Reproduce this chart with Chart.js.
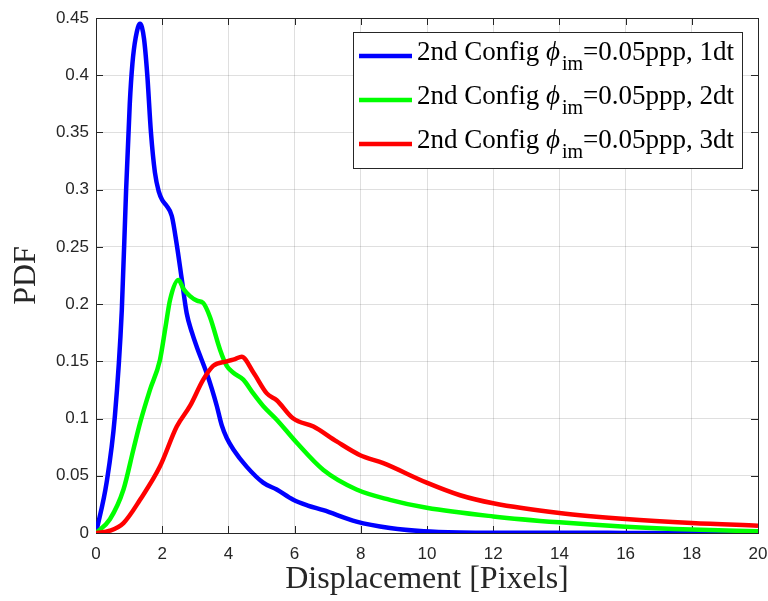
<!DOCTYPE html>
<html lang="en">
<head>
  <meta charset="UTF-8" />
  <title>PDF of displacement</title>
  <script src="https://cdn.jsdelivr.net/npm/chart.js"></script>
  <style>
    body { margin: 0; background: #fff; }
    #wrap { width: 768px; height: 601px; position: relative; }
  </style>
</head>
<body>
  <div id="wrap"><canvas id="pdfChart"></canvas></div>

  <script>
    // data
    const disp1dt = [0, 0.32, 0.57, 0.78, 0.91, 1.02, 1.1, 1.2, 1.33, 1.45, 1.55, 1.66, 1.78, 1.9, 2.0, 2.13, 2.29, 2.44, 2.59, 2.74, 2.9, 3.04, 3.34, 3.5, 3.65, 3.8, 3.95, 4.15, 4.55, 5.05, 5.46, 5.96, 6.4, 6.87, 7.87, 8.88, 9.9, 11, 13, 16, 20];
    const pdf1dt  = [0, 0.044, 0.102, 0.195, 0.30, 0.375, 0.41, 0.433, 0.445, 0.432, 0.40, 0.35, 0.315, 0.298, 0.291, 0.286, 0.277, 0.252, 0.222, 0.192, 0.175, 0.163, 0.140, 0.126, 0.111, 0.094, 0.083, 0.073, 0.058, 0.044, 0.038, 0.029, 0.024, 0.020, 0.010, 0.0044, 0.0015, 0.0005, 0.0002, 0.0001, 0];

    const disp2dt = [0, 0.42, 0.83, 1.13, 1.33, 1.63, 1.93, 2.1, 2.24, 2.49, 2.65, 2.84, 3.05, 3.24, 3.44, 3.75, 3.95, 4.15, 4.45, 4.75, 5.05, 5.46, 6.06, 6.87, 7.87, 8.88, 9.99, 12, 14, 16, 18, 20];
    const pdf2dt  = [0, 0.012, 0.038, 0.073, 0.096, 0.125, 0.151, 0.18, 0.204, 0.221, 0.213, 0.207, 0.203, 0.201, 0.189, 0.160, 0.146, 0.140, 0.134, 0.122, 0.111, 0.099, 0.079, 0.055, 0.038, 0.029, 0.022, 0.0145, 0.0093, 0.0055, 0.003, 0.0015];

    const disp3dt = [0, 0.42, 0.83, 1.33, 1.93, 2.44, 2.84, 3.24, 3.54, 3.95, 4.2, 4.4, 4.76, 5.16, 5.46, 5.96, 6.57, 7.27, 7.98, 8.68, 9.99, 11, 12, 14, 16, 18, 20];
    const pdf3dt  = [0, 0.002, 0.0087, 0.029, 0.058, 0.093, 0.111, 0.134, 0.146, 0.150, 0.152, 0.154, 0.140, 0.122, 0.116, 0.100, 0.093, 0.080, 0.068, 0.061, 0.044, 0.033, 0.026, 0.0175, 0.0122, 0.0087, 0.0064];

    const seriesTags = ["1dt", "2dt", "3dt"];
    const seriesColors = ["#0000ff", "#00ff00", "#ff0000"];

    const xTickLabels = ["0", "2", "4", "6", "8", "10", "12", "14", "16", "18", "20"];
    const yTickLabels = ["0", "0.05", "0.1", "0.15", "0.2", "0.25", "0.3", "0.35", "0.4", "0.45"];

    const axisColor = "#262626";

    function toPoints(xs, ys) {
      return xs.map((x, i) => ({ x: x, y: ys[i] }));
    }

    // box around the plot with inward ticks on all four sides
    const framePlugin = {
      id: "frame",
      beforeDatasetsDraw(chart) {
        const { ctx, chartArea: a, scales } = chart;
        const len = 7;
        ctx.save();
        ctx.strokeStyle = axisColor;
        ctx.lineWidth = 1;
        ctx.beginPath();
        scales.x.ticks.forEach(t => {
          const px = Math.round(scales.x.getPixelForValue(t.value)) + 0.5;
          ctx.moveTo(px, a.bottom); ctx.lineTo(px, a.bottom - len);
          ctx.moveTo(px, a.top); ctx.lineTo(px, a.top + len);
        });
        scales.y.ticks.forEach(t => {
          const py = Math.round(scales.y.getPixelForValue(t.value)) + 0.5;
          ctx.moveTo(a.left, py); ctx.lineTo(a.left + len, py);
          ctx.moveTo(a.right, py); ctx.lineTo(a.right - len, py);
        });
        ctx.stroke();
        ctx.strokeRect(Math.round(a.left) + 0.5, Math.round(a.top) + 0.5,
                       Math.round(a.right - a.left), Math.round(a.bottom - a.top));
        ctx.restore();
      }
    };

    // legend with italic phi and subscript, like the MATLAB one
    const legendPlugin = {
      id: "texLegend",
      afterDraw(chart) {
        const ctx = chart.ctx;
        const box = { x: 353.5, y: 32.5, w: 389, h: 136 };
        const serif = '"Liberation Serif", "Times New Roman", serif';
        ctx.save();
        ctx.fillStyle = "#fff";
        ctx.fillRect(box.x, box.y, box.w, box.h);
        ctx.strokeStyle = axisColor;
        ctx.lineWidth = 1;
        ctx.strokeRect(box.x, box.y, box.w, box.h);

        chart.data.datasets.forEach((ds, i) => {
          const ly = 56 + i * 44;
          ctx.strokeStyle = ds.borderColor;
          ctx.lineWidth = 4.5;
          ctx.beginPath();
          ctx.moveTo(359, ly);
          ctx.lineTo(412, ly);
          ctx.stroke();

          const base = ly + 4;
          let x = 417;
          ctx.fillStyle = "#000";
          ctx.textBaseline = "alphabetic";
          ctx.font = "27px " + serif;
          ctx.fillText("2nd Config ", x, base);
          x += ctx.measureText("2nd Config ").width;
          ctx.font = 'italic 27px "Liberation Serif", "DejaVu Serif", serif';
          ctx.fillText("\u03d5", x, base);
          x += ctx.measureText("\u03d5").width + 2;
          ctx.font = "20px " + serif;
          ctx.fillText("im", x, base + 10);
          x += ctx.measureText("im").width;
          ctx.font = "27px " + serif;
          ctx.fillText("=0.05ppp, " + seriesTags[i], x, base);
        });
        ctx.restore();
      }
    };

    const datasets = [
      { data: toPoints(disp1dt, pdf1dt), order: 3 },
      { data: toPoints(disp2dt, pdf2dt), order: 2 },
      { data: toPoints(disp3dt, pdf3dt), order: 1 }
    ].map((d, i) => Object.assign(d, {
      label: "2nd Config \u03d5im=0.05ppp, " + seriesTags[i],
      borderColor: seriesColors[i],
      backgroundColor: seriesColors[i],
      borderWidth: 4.5,
      pointRadius: 0,
      showLine: true,
      fill: false,
      cubicInterpolationMode: "monotone"
    }));

    const tickFont = { family: '"Liberation Sans", Arial, sans-serif', size: 17 };
    const titleFont = { family: '"Liberation Serif", "Times New Roman", serif', size: 32 };
    const gridColor = "rgba(38, 38, 38, 0.15)";

    new Chart(document.getElementById("pdfChart"), {
      type: "scatter",
      data: { datasets: datasets },
      options: {
        responsive: true,
        maintainAspectRatio: false,
        animation: false,
        layout: { padding: { top: 18, right: 10, left: 0, bottom: 0 } },
        plugins: {
          legend: { display: false },
          tooltip: { enabled: false }
        },
        scales: {
          x: {
            type: "linear",
            min: 0,
            max: 20,
            afterFit: s => { s.height = 68; s.paddingLeft = 0; s.paddingRight = 0; },
            border: { display: false },
            grid: { color: gridColor, drawTicks: false },
            ticks: {
              stepSize: 2,
              padding: 11,
              color: axisColor,
              font: tickFont,
              maxRotation: 0,
              callback: (v, i) => xTickLabels[i]
            },
            title: {
              display: true,
              text: "Displacement [Pixels]",
              color: axisColor,
              font: titleFont,
              padding: { top: 0, bottom: 2 }
            }
          },
          y: {
            type: "linear",
            min: 0,
            max: 0.45,
            afterFit: s => { s.width = 96; s.paddingTop = 0; s.paddingBottom = 0; },
            border: { display: false },
            grid: { color: gridColor, drawTicks: false },
            ticks: {
              stepSize: 0.05,
              padding: 7,
              color: axisColor,
              font: tickFont,
              callback: (v, i) => yTickLabels[i]
            },
            title: {
              display: true,
              text: "PDF",
              color: axisColor,
              font: titleFont,
              padding: { top: 7, bottom: 0 }
            }
          }
        }
      },
      plugins: [framePlugin, legendPlugin]
    });
  </script>
</body>
</html>
